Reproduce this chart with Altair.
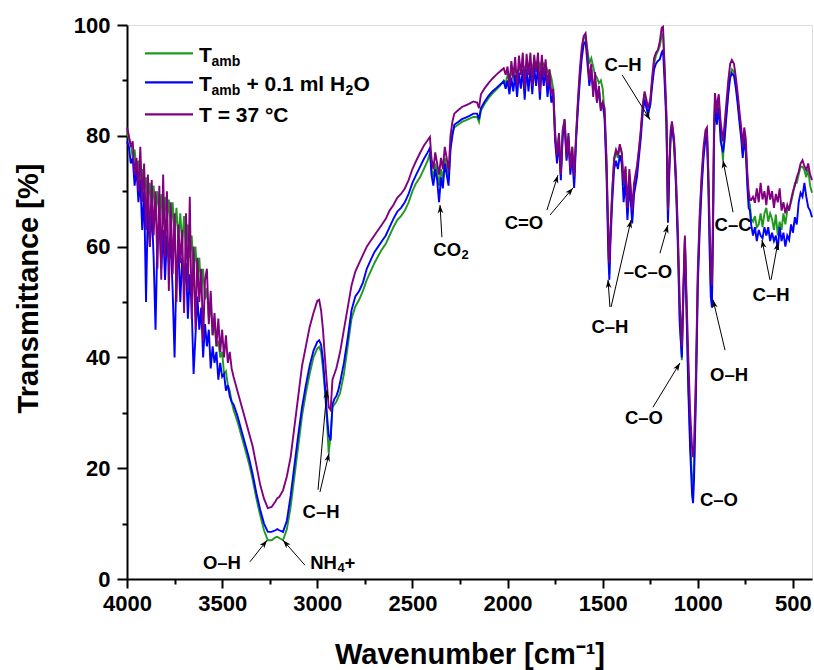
import math
import altair as alt
import pandas as pd

# ---------------- data ----------------
wavenumber = [
    4000, 3990, 3980, 3970, 3960, 3950, 3940, 3930, 3920, 3910, 3900, 3890, 3880, 3870, 3860, 3850,
    3840, 3830, 3820, 3810, 3800, 3790, 3780, 3770, 3760, 3750, 3740, 3730, 3720, 3710, 3700, 3690,
    3680, 3670, 3660, 3650, 3640, 3630, 3620, 3610, 3600, 3590, 3580, 3570, 3560, 3550, 3540, 3530,
    3520, 3510, 3500, 3490, 3480, 3470, 3460, 3450,
    3440, 3420, 3400, 3380, 3360, 3340, 3320, 3300, 3280, 3260, 3240, 3220, 3210, 3200, 3180, 3160,
    3140, 3120, 3100, 3080, 3060, 3040, 3020, 3000, 2990, 2980, 2970, 2960, 2950, 2940, 2930, 2920,
    2910, 2900, 2890, 2880, 2860, 2840, 2820, 2800, 2780, 2760, 2740, 2720, 2700, 2680, 2660,
    2640, 2620, 2600, 2580, 2560, 2540, 2520, 2500, 2480, 2460, 2440, 2420, 2408,
    2400, 2390, 2380, 2370, 2360, 2350, 2340, 2330, 2320, 2310, 2300, 2290,
    2280, 2260, 2240, 2220, 2200, 2180, 2160, 2150, 2140, 2120, 2100, 2080, 2060, 2040, 2020, 2010,
    2000, 1990, 1980, 1970, 1960, 1950, 1940, 1930, 1920, 1910, 1900, 1890, 1880, 1870, 1860, 1850,
    1840, 1830, 1820, 1810, 1800, 1790, 1780, 1770, 1760, 1750, 1740, 1730, 1720, 1710, 1700, 1690,
    1680, 1670, 1660, 1650, 1640, 1630, 1620, 1610, 1600, 1590, 1580, 1570, 1560, 1550, 1540, 1530,
    1520, 1510, 1500,
    1490, 1480, 1470, 1465, 1460, 1450, 1440, 1430, 1420, 1410, 1400, 1390, 1380, 1370, 1360, 1350,
    1345, 1335, 1320, 1310, 1300, 1290, 1280, 1270, 1262, 1250, 1240, 1230, 1220, 1210, 1200, 1190, 1183,
    1175, 1165, 1157, 1150, 1143, 1136, 1125, 1115, 1105, 1095, 1084, 1076, 1068, 1060, 1050, 1040,
    1030, 1025, 1020, 1010, 1000,
    990, 980, 970, 960, 952, 945, 938, 932, 926, 920, 915, 910, 905, 900, 895, 890, 880, 868, 860, 850,
    840, 830, 821, 810, 800, 790, 780, 772, 764, 756, 748, 740, 733, 726,
    720, 710, 700, 690, 680, 670, 660, 650, 640, 630, 620, 610, 600, 590, 580, 570, 560, 550, 540, 530,
    520, 510, 500, 490, 480, 470, 460, 450, 440, 430, 420, 410, 400,
]

t_amb = [
    80.5, 79.5, 78.5, 76, 77.5, 74, 75.5, 71.5, 74, 70, 72.5, 68, 71.5, 67.5, 71, 66,
    70, 65.5, 69.5, 64, 69, 65, 68.5, 63, 68, 62.5, 67, 61, 66, 60.5, 65.5, 59,
    64, 58, 62, 56, 60, 54, 58, 52, 56, 50.5, 52.5, 47, 49.5, 44, 46, 42,
    43, 40, 41, 37, 37.5, 35, 34, 32,
    30.5, 28.5, 26, 23.5, 21, 18, 14.5, 11.5, 8.8, 7, 7, 7.5, 7.6, 7.4, 7, 9,
    13, 18.5, 24, 29.5, 33.5, 37, 40, 41.6, 41.9, 41, 38, 34, 29, 22.7, 26, 31,
    31.5, 32, 32.8, 33.6, 37, 42, 47, 49.2, 50.4, 52, 54, 55.5, 57, 58.3, 59.5,
    60.5, 62, 63.5, 64.8, 65.5, 66.5, 68, 70, 71.5, 72.5, 74, 75.5, 76.9,
    74, 72.5, 75, 73.5, 71, 74, 72, 76, 74, 72, 78, 80.5,
    81.5, 82, 82.5, 82.8, 83.1, 83.4, 83.4, 82.5, 84.5, 85.8, 86.8, 87.6, 88.3, 89, 90, 89.5,
    91, 90, 91.6, 90.5, 92, 91, 92.4, 91.5, 93, 91.8, 93.1, 92, 93.3, 92.2, 93.5, 92.5,
    93.6, 92.4, 93.5, 92.8, 93, 91.5, 91.8, 90.5, 88.5, 81, 76, 80, 73, 81, 83, 77,
    80, 74.5, 78, 71.5, 80, 86, 91, 95, 97.5, 98, 95.5, 93, 94, 92.5, 91, 90.5,
    89.5, 90, 88.5,
    84, 75, 60, 55, 62, 70, 75.5, 77, 76, 78, 77, 71, 74, 66, 73, 69,
    65, 71, 74, 77, 80.5, 85, 87.5, 85.5, 83.4, 86, 90, 93, 94.5, 95.3, 96.2, 98, 98.5,
    92, 83, 65, 74, 80, 82.3, 79, 72, 62, 47, 39.5, 52, 61.5, 50, 36, 25,
    17.5, 16.6, 20, 35, 55,
    65, 72, 77, 80, 80.5, 73, 62, 53, 50, 65, 80, 86, 85, 83, 85, 86, 81, 75.6, 80, 84,
    88, 91, 92, 91.5, 89.5, 86.5, 83, 80.5, 77, 80.5, 78, 72.5, 68.5, 67.5,
    65, 64.5, 65.5, 63.5, 64, 66, 63.5, 66, 67, 64.5, 66, 65, 63, 65.8, 62, 64.5, 63, 66, 64, 66.5,
    67.1, 68, 69.5, 71.5, 71.5, 73, 74.4, 74.4, 73.8, 72.5, 74, 71, 69.7,
]

t_amb_h2o = [
    79, 78, 75, 76, 71, 74, 68, 72, 63, 70, 50, 68, 60, 67, 58, 45,
    62, 65, 56, 63, 54, 62, 57, 61, 52, 40, 56, 60, 50, 58, 53, 57,
    47, 55, 49, 37, 44, 51, 45, 49, 40, 46, 42, 45, 38, 42, 39, 41,
    36, 39, 36.5, 37, 34, 35, 33, 32,
    31.5, 29.5, 27, 24.5, 22, 19, 15.5, 12.5, 10, 8.5, 8.5, 8.8, 9, 8.8, 8.5, 10.5,
    15, 20.5, 26, 31, 35, 38.5, 41.2, 42.8, 43.1, 42.3, 39.5, 35, 30, 26, 25, 31.5,
    32.5, 33, 34, 35.5, 39, 43.5, 48.5, 51, 52, 53.5, 56, 57.5, 59, 60, 61,
    62, 63.5, 65, 66.3, 67, 68, 69.5, 71.5, 73, 74.4, 75.8, 77, 77.8,
    73, 71, 74, 72, 68, 72.5, 70.5, 75, 73, 71, 77.5, 80,
    82, 82.5, 83, 83.3, 83.6, 84, 84, 83, 85, 86.2, 87.2, 88, 88.6, 89.2, 89.8, 88.5,
    90, 87.5, 90.5, 88, 91, 87, 91.4, 88.5, 92, 86.5, 92.1, 88, 92.3, 87.5, 92.5, 89,
    92.6, 86.5, 92.5, 89, 92, 87, 90.5, 86, 87.5, 79, 75, 79, 72, 80, 82, 75.5,
    79, 73, 76.5, 70.6, 79, 85, 90, 94, 96.5, 97, 93, 89, 92, 88, 90, 86,
    88.5, 85, 86,
    83, 73, 58, 54, 60, 68, 74, 75.5, 74, 76.5, 75, 68, 72, 64.8, 71, 67,
    64.2, 69.5, 72.5, 76, 79.5, 84, 86.5, 85, 84, 85.5, 89, 92, 93, 93.5, 93.8, 95, 95.5,
    90, 82, 64.3, 73.5, 79.5, 81.8, 78.5, 71, 60, 46, 40, 51, 61, 49, 34, 23,
    15, 13.7, 18, 33, 53,
    63, 70.5, 76, 79.5, 80, 71, 59, 51, 49, 63, 79, 85.5, 84, 82, 84, 85, 79, 77, 79, 83.5,
    87.5, 90.5, 91.3, 90.8, 88.5, 85.5, 82, 79.5, 76, 79.5, 77, 71, 67, 66.5,
    64, 62, 63.5, 61, 63, 62, 61.5, 63.5, 62, 63.5, 61, 62.5, 61, 62, 59.4, 63.5, 61, 62.5, 60, 62,
    61.2, 64, 62.5, 65.3, 64, 68, 69.7, 69, 71.5, 69, 67.1, 66.5, 65.3,
]

t_37 = [
    81.5, 80, 78, 79, 73, 76, 70, 78, 68, 75, 63, 73, 60, 72, 62, 70,
    56, 71, 54, 73, 58, 70, 52, 68, 55, 66, 50, 64, 57, 63, 48, 66,
    52, 69, 47, 60, 45, 58, 50, 56, 43, 54, 56, 46, 52, 44, 48, 42,
    47, 41, 45, 40, 44, 39, 41, 38,
    36.5, 34, 31.5, 29, 26.5, 24, 20.5, 17, 14.5, 12.8, 13, 14, 14.6, 14.8, 16, 18.5,
    22, 27.5, 33, 38.5, 42, 45.5, 48, 50.2, 50.4, 48.5, 45, 40, 35.5, 31, 30.5, 36,
    37, 38, 39.5, 41, 45, 49, 53, 55.5, 57, 58.5, 60, 61, 62, 63, 64,
    65, 66.5, 67.5, 68.8, 69.5, 70.5, 72, 74, 75.5, 76.9, 78.2, 79.2, 79.8,
    76, 74, 77, 75, 73, 76, 74, 78, 76, 73.5, 80, 82.5,
    84, 84.6, 85.2, 85.5, 85.8, 86.2, 86, 85, 87.5, 88.6, 89.5, 90.3, 91, 91.6, 92.2, 91,
    92.5, 89, 93.5, 90.5, 94.2, 89, 94.5, 91, 95, 88.5, 94.8, 91, 95, 89, 94.6, 91.5,
    95, 88, 94.6, 90.5, 93.8, 89, 92, 87.5, 88.5, 80, 76.5, 80.5, 73, 81, 83, 76,
    80.5, 74, 78, 72.6, 80, 86.5, 92, 96, 98, 98.5, 94.5, 90, 93, 87, 91.5, 86,
    89, 84.5, 86,
    85, 76, 62, 57, 62, 70, 76, 77.5, 76.5, 78.5, 77, 71.5, 74.5, 67, 74, 69.5,
    66.5, 71.5, 74.5, 77.5, 81, 85.5, 88, 86.5, 85, 86.5, 90.5, 94, 95, 95.5, 97, 99.5, 99.7,
    93, 84, 66.5, 75, 81, 82.6, 79.5, 73, 63, 50, 42, 53, 62, 52, 40, 30,
    23.5, 22, 24, 37, 56,
    66, 73, 78, 81, 81.5, 74, 64, 56, 53, 67, 82, 87.7, 86, 84, 86.5, 87.5, 82.5, 79, 82, 86,
    90, 93, 93.7, 93, 90.5, 87.5, 84, 81.5, 78, 81.5, 79.5, 73.5, 70, 68.4,
    68.4, 69, 67.9, 70.5, 68, 71.5, 68.5, 70, 67.5, 71, 68.5, 70, 67, 69.5, 68, 70.5, 66.5, 68, 66, 67.5,
    66.5, 68.5, 70, 71, 72.5, 73.5, 75, 75.6, 74.5, 73.8, 75, 73, 72,
]

assert len(wavenumber) == len(t_amb) == len(t_amb_h2o) == len(t_37)

x_ticks = [4000, 3500, 3000, 2500, 2000, 1500, 1000, 500]
x_minor = [3750, 3250, 2750, 2250, 1750, 1250, 750]
y_ticks = [0, 20, 40, 60, 80, 100]
y_minor = [10, 30, 50, 70, 90]

# peak labels, anchored at (wavenumber, transmittance)
label_text = ["O–H", "C–H", "C=O", "C–H", "C–H", "–C–O", "C–O", "C–O", "O–H", "C–C", "C–H"]
label_wn = [3501, 2980, 1914, 1393, 1462, 1262, 1283, 889, 836, 815, 615]
label_t = [2.9, 12.1, 64.3, 92.8, 45.5, 55.4, 29.1, 14.3, 36.8, 63.9, 51.3]

# labels with a subscript: anchor (wavenumber, transmittance)
co2_anchor = (2302, 59.4)
nh4_anchor = (2928, 2.9)

# arrows: start (wn, T) -> tip (wn, T)
arrow_wn1 = [3354, 3065, 2996, 2986, 2345, 1793, 1777, 1398, 1462, 1456, 1199, 1236, 857, 815, 621, 615]
arrow_t1 = [3.1, 2.5, 16.1, 15.7, 61.7, 66.6, 65.7, 91.0, 49.1, 49.1, 58.8, 31.0, 41.3, 66.2, 54.0, 54.0]
arrow_wn2 = [3264, 3180, 2949, 2938, 2355, 1735, 1656, 1251, 1472, 1351, 1157, 1094, 920, 868, 663, 579]
arrow_t2 = [7.0, 7.0, 34.1, 22.7, 67.5, 72.9, 70.6, 82.9, 54.0, 64.8, 63.9, 39.0, 50.4, 75.6, 61.2, 60.8]

series_colors = ["#1f9a1f", "#0000ff", "#800080"]

# ---------------- layout ----------------
FONT = "Liberation Sans"
W, H = 685, 554
PX_PER_WN = W / 3600.0
PX_PER_T = H / 100.0

xscale = alt.Scale(domain=[400, 4000], reverse=True, nice=False, zero=False)
yscale = alt.Scale(domain=[0, 100], nice=False, zero=False)

df = pd.DataFrame({"wn": wavenumber, "g": t_amb, "b": t_amb_h2o, "p": t_37})

major_x_axis = alt.Axis(
    values=x_ticks, format="d", orient="bottom", grid=False,
    tickSize=9, tickWidth=2, tickColor="black", domainWidth=2, domainColor="black",
    labelFont=FONT, labelFontSize=22, labelFontWeight="bold", labelColor="black",
    labelPadding=5, labelFlush=False, labelOverlap=False,
    titleFont=FONT, titleFontSize=29, titleFontWeight="bold", titleColor="black",
    titleY=84, titleBaseline="alphabetic",
)
major_y_axis = alt.Axis(
    values=y_ticks, format="d", orient="left", grid=False,
    tickSize=10, tickWidth=2, tickColor="black", domainWidth=2, domainColor="black",
    labelFont=FONT, labelFontSize=22, labelFontWeight="bold", labelColor="black",
    labelPadding=7, labelFlush=False, labelOverlap=False,
    titleFont=FONT, titleFontSize=29, titleFontWeight="bold", titleColor="black",
    titleX=-90, titleY=263, titleAngle=270, titleBaseline="alphabetic", titleAlign="center",
)
minor_x_axis = alt.Axis(values=x_minor, orient="bottom", grid=False, labels=False, domain=False,
                        tickSize=5, tickWidth=2, tickColor="black", title="")
minor_y_axis = alt.Axis(values=y_minor, orient="left", grid=False, labels=False, domain=False,
                        tickSize=5, tickWidth=2, tickColor="black", title="")

green = alt.Chart(df).mark_line(color=series_colors[0], strokeWidth=1.9).encode(
    x=alt.X("wn:Q", scale=xscale, axis=major_x_axis, title="Wavenumber [cm⁻¹]"),
    y=alt.Y("g:Q", scale=yscale, axis=major_y_axis, title="Transmittance [%]"),
)
blue = alt.Chart(df).mark_line(color=series_colors[1], strokeWidth=1.9).encode(
    x=alt.X("wn:Q", scale=xscale, axis=minor_x_axis),
    y=alt.Y("b:Q", scale=yscale, axis=minor_y_axis),
)
purple = alt.Chart(df).mark_line(color=series_colors[2], strokeWidth=1.9).encode(
    x=alt.X("wn:Q", scale=xscale, axis=None),
    y=alt.Y("p:Q", scale=yscale, axis=None),
)

LABEL_SIZE = 18.5
labels_df = pd.DataFrame({"label": label_text, "wn": label_wn, "t": label_t})
labels = alt.Chart(labels_df).mark_text(
    font=FONT, fontSize=LABEL_SIZE, fontWeight="bold", color="black", align="center", baseline="middle"
).encode(
    x=alt.X("wn:Q", scale=xscale, axis=None),
    y=alt.Y("t:Q", scale=yscale, axis=None),
    text="label:N",
)


def piece(anchor, txt, dx, dy, size, align):
    d = pd.DataFrame({"wn": [anchor[0]], "t": [anchor[1]]})
    return alt.Chart(d).mark_text(
        text=txt, font=FONT, fontSize=size, fontWeight="bold", color="black",
        align=align, baseline="middle", dx=dx, dy=dy
    ).encode(
        x=alt.X("wn:Q", scale=xscale, axis=None),
        y=alt.Y("t:Q", scale=yscale, axis=None),
    )


sub_labels = [
    piece(co2_anchor, "CO", 11, 0, LABEL_SIZE, "right"),
    piece(co2_anchor, "2", 11.5, 5, 13, "left"),
    piece(nh4_anchor, "NH", 6, 0, LABEL_SIZE, "right"),
    piece(nh4_anchor, "4", 6.5, 5, 13, "left"),
    piece(nh4_anchor, "+", 13.5, 0, LABEL_SIZE, "left"),
]

angles = []
for a1, b1, a2, b2 in zip(arrow_wn1, arrow_t1, arrow_wn2, arrow_t2):
    dx = -(a2 - a1) * PX_PER_WN
    dy = -(b2 - b1) * PX_PER_T
    angles.append(math.degrees(math.atan2(dx, -dy)) % 360)
arrows_df = pd.DataFrame({"x1": arrow_wn1, "y1": arrow_t1, "x2": arrow_wn2, "y2": arrow_t2, "ang": angles})

shafts = alt.Chart(arrows_df).mark_rule(color="black", strokeWidth=1).encode(
    x=alt.X("x1:Q", scale=xscale, axis=None),
    y=alt.Y("y1:Q", scale=yscale, axis=None),
    x2="x2:Q",
    y2="y2:Q",
)
HEAD = "M0,0 L0.5,1.45 L0,1.05 L-0.5,1.45 Z"
heads = alt.Chart(arrows_df).mark_point(
    shape=HEAD, filled=True, size=130, color="black", opacity=1, strokeWidth=0
).encode(
    x=alt.X("x2:Q", scale=xscale, axis=None),
    y=alt.Y("y2:Q", scale=yscale, axis=None),
    angle=alt.Angle("ang:Q", scale=None),
)

# ---------------- legend (drawn by hand) ----------------
one = pd.DataFrame({"k": [0]})
legend_layers = []
for col, ly in zip(series_colors, [28.3, 57.3, 89.3]):
    legend_layers.append(
        alt.Chart(one).mark_rule(color=col, strokeWidth=2.2).encode(
            x=alt.value(18), x2=alt.value(66), y=alt.value(ly)
        )
    )


def ltext(txt, x, y, size=21):
    return alt.Chart(one).mark_text(
        text=txt, font=FONT, fontSize=size, fontWeight="bold", color="black",
        align="left", baseline="alphabetic"
    ).encode(x=alt.value(x), y=alt.value(y))


legend_layers += [
    ltext("T", 72, 36.5),
    ltext("amb", 84.5, 40.7, 14),
    ltext("T", 72, 65.5),
    ltext("amb", 84.5, 69.7, 14),
    ltext("+ 0.1 ml H", 119.5, 65.5),
    ltext("2", 218.5, 70, 14),
    ltext("O", 226.5, 65.5),
    ltext("T = 37 °C", 72, 96.7),
]

chart = alt.layer(green, blue, purple, labels, *sub_labels, shafts, heads, *legend_layers).resolve_scale(
    x="shared", y="shared"
).resolve_axis(
    x="independent", y="independent"
).properties(
    width=W, height=H,
    autosize=alt.AutoSizeParams(type="none"),
    padding={"left": 127, "top": 25, "right": 2, "bottom": 91},
).configure_view(
    stroke="black", strokeWidth=2
).configure(background="white")

chart.save("out.html", embed_options={"renderer": "svg", "actions": False})
